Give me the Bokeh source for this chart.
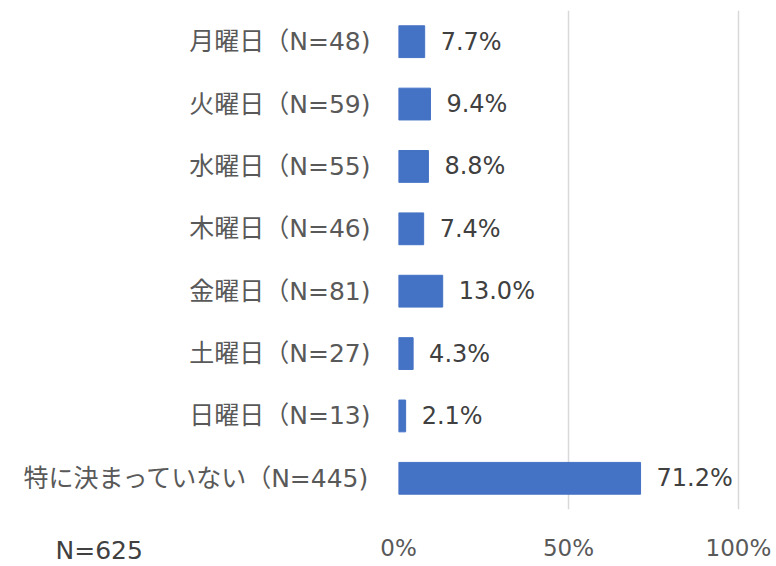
from bokeh.plotting import figure
from bokeh.models import ColumnDataSource, FactorRange, FixedTicker, PrintfTickFormatter, Label, Range1d
from bokeh.core.properties import value
from bokeh.embed import file_html
from bokeh.resources import INLINE

categories = ["月曜日（N=48)", "火曜日（N=59)", "水曜日（N=55)", "木曜日（N=46)",
              "金曜日（N=81)", "土曜日（N=27)", "日曜日（N=13)", "特に決まっていない（N=445)"]
values = [7.7, 9.4, 8.8, 7.4, 13.0, 4.3, 2.1, 71.2]
value_labels = ["7.7%", "9.4%", "8.8%", "7.4%", "13.0%", "4.3%", "2.1%", "71.2%"]
x_ticks = [0, 50, 100]
total_label = "N=625"

FONT = "DejaVu Sans, Noto Sans CJK JP"

src = ColumnDataSource(dict(cat=categories, val=values, lab=value_labels))

p = figure(width=776, height=566, output_backend="svg", toolbar_location=None,
           y_range=FactorRange(*reversed(categories)), x_range=Range1d(0, 100.6),
           min_border_left=398, min_border_right=36, min_border_top=10, min_border_bottom=57)
p.outline_line_color = None
p.background_fill_color = "white"
p.border_fill_color = "white"

p.hbar(y="cat", right="val", left=0, height=0.51, source=src, color="#4472C4")
p.text(x="val", y="cat", text="lab", source=src, x_offset=16, text_baseline="middle",
       text_align="left", text_font=value("DejaVu Sans"), text_font_size="24px", text_color="#404040")

xaxis = p.xaxis[0]
xaxis.ticker = FixedTicker(ticks=x_ticks)
xaxis.formatter = PrintfTickFormatter(format="%d%%")
xaxis.axis_line_color = None
xaxis.major_tick_line_color = None
xaxis.minor_tick_line_color = None
xaxis.major_label_text_font = "DejaVu Sans"
xaxis.major_label_text_font_size = "23px"
xaxis.major_label_text_color = "#595959"
xaxis.major_label_standoff = -10

p.yaxis.axis_line_color = None
p.yaxis.major_tick_line_color = None
p.yaxis.minor_tick_line_color = None
p.yaxis.major_label_text_font = FONT
p.yaxis.major_label_text_font_size = "25px"
p.yaxis.major_label_text_color = "#595959"
p.yaxis.major_label_standoff = 22

p.xgrid.grid_line_color = "#d9d9d9"
p.xgrid.grid_line_width = 1.5
p.ygrid.grid_line_color = None

n_label = Label(x=55, y=550, x_units="canvas", y_units="canvas", text=total_label,
                text_baseline="middle",
                text_font="DejaVu Sans", text_font_size="25px", text_color="#404040")
p.below = [n_label, xaxis]

open("out.html", "w").write(file_html(p, INLINE))
